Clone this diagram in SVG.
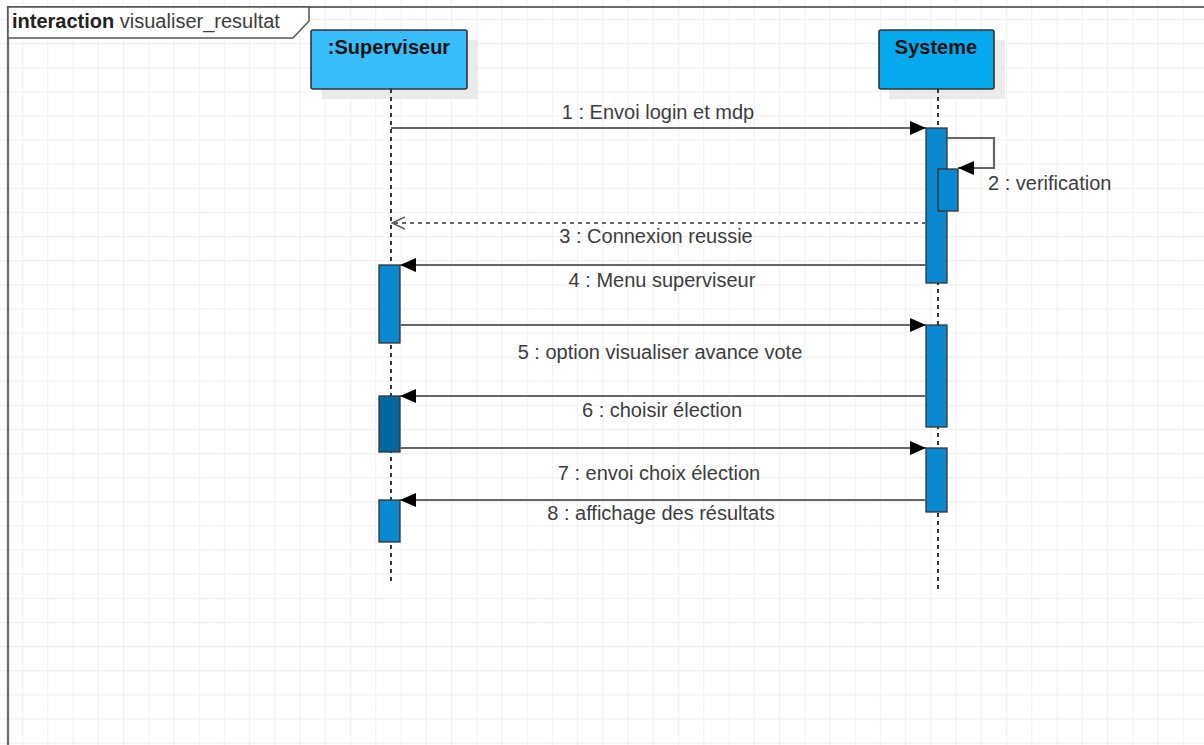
<svg xmlns="http://www.w3.org/2000/svg" width="1204" height="745" viewBox="0 0 1204 745">
  <defs>
    <pattern id="grid" patternUnits="userSpaceOnUse" x="22" y="43" width="25.23" height="24.12">
      <path d="M 0.5 0 V 24.12 M 0 0.5 H 25.23" fill="none" stroke="#f0f0f0" stroke-width="1.3"/>
    </pattern>
    <marker id="solid" viewBox="0 0 16 14" refX="16" refY="7" markerWidth="16" markerHeight="14" markerUnits="userSpaceOnUse" orient="auto">
      <path d="M 0 0 L 16 7 L 0 14 Z" fill="#000"/>
    </marker>
    <marker id="open" viewBox="0 0 14 14" refX="13" refY="7" markerWidth="14" markerHeight="14" markerUnits="userSpaceOnUse" orient="auto">
      <path d="M 0 1 L 13 7 L 0 13" fill="none" stroke="#555" stroke-width="1.5"/>
    </marker>
  </defs>
  <style>
    .lbl { font-family: "Liberation Sans", Arial, sans-serif; font-size: 20px; fill: #3c3c3c; }
    .head { font-family: "Liberation Sans", Arial, sans-serif; font-size: 20px; font-weight: bold; fill: #111; text-anchor: middle; }
    .msg { fill: none; stroke: #666666; stroke-width: 2.2; }
    .ret { fill: none; stroke: #666666; stroke-width: 1.8; stroke-dasharray: 4 4; }
    .life { stroke: #222; stroke-width: 1.8; stroke-dasharray: 4 4; }
    .act { fill: #0a88d0; stroke: #333; stroke-width: 1.3; }
    .act-dark { fill: #05679f; stroke: #333; stroke-width: 1.3; }
    .shadow { fill: #e6e6e6; opacity: 0.8; }
    .box { stroke: #333; stroke-width: 1.6; }
  </style>

  <!-- background grid -->
  <rect width="1204" height="745" fill="#ffffff"/>
  <rect width="1204" height="745" fill="url(#grid)"/>

  <!-- interaction frame -->
  <g id="frame">
    <path d="M 8 745 V 7 H 1204" fill="none" stroke="#6a6a6a" stroke-width="2.2"/>
    <path d="M 8 7 H 309 V 21 L 293 38 H 8 Z" fill="#ffffff" stroke="#555" stroke-width="1.5"/>
    <text x="12" y="28" class="lbl"><tspan font-weight="bold" fill="#222">interaction</tspan> visualiser_resultat</text>
  </g>

  <!-- lifeline: Superviseur -->
  <g id="superviseur">
    <rect class="shadow" x="322" y="40" width="156" height="59"/>
    <rect class="box" x="311" y="30" width="156" height="59" rx="2" fill="#38bdfd"/>
    <text class="head" x="389" y="54">:Superviseur</text>
    <line class="life" x1="391" y1="89" x2="391" y2="584"/>
  </g>

  <!-- lifeline: Systeme -->
  <g id="systeme">
    <rect class="shadow" x="889" y="40" width="116" height="59"/>
    <rect class="box" x="879" y="30" width="115" height="59" rx="2" fill="#04a9ee"/>
    <text class="head" x="936" y="54">Systeme</text>
    <line class="life" x1="938" y1="89" x2="938" y2="593"/>
  </g>

  <!-- activation bars -->
  <g id="activations">
    <rect id="act-sys-1" class="act" x="926" y="128" width="21" height="155"/>
    <rect id="act-sys-verif" class="act" x="938" y="169" width="20" height="42"/>
    <rect id="act-sys-2" class="act" x="926" y="325" width="21" height="102"/>
    <rect id="act-sys-3" class="act" x="926" y="448" width="21" height="64"/>
    <rect id="act-sup-1" class="act" x="379" y="265" width="21" height="78"/>
    <rect id="act-sup-2" class="act-dark" x="379" y="396" width="21" height="56"/>
    <rect id="act-sup-3" class="act" x="379" y="500" width="21" height="42"/>
  </g>

  <!-- messages -->
  <g id="connectors">
    <line class="msg" x1="391" y1="128" x2="926" y2="128" marker-end="url(#solid)"/>
    <path class="msg" d="M 947 138 H 994 V 168 H 958" marker-end="url(#solid)"/>
    <line class="ret" x1="926" y1="223" x2="392" y2="223" marker-end="url(#open)"/>
    <line class="msg" x1="926" y1="265" x2="400" y2="265" marker-end="url(#solid)"/>
    <line class="msg" x1="400" y1="325" x2="926" y2="325" marker-end="url(#solid)"/>
    <line class="msg" x1="926" y1="396" x2="400" y2="396" marker-end="url(#solid)"/>
    <line class="msg" x1="400" y1="448" x2="926" y2="448" marker-end="url(#solid)"/>
    <line class="msg" x1="926" y1="500" x2="400" y2="500" marker-end="url(#solid)"/>
  </g>

  <!-- message labels -->
  <g id="labels" text-anchor="middle">
    <text class="lbl" x="658" y="119">1 : Envoi login et mdp</text>
    <text class="lbl" x="988" y="190" text-anchor="start">2 : verification</text>
    <text class="lbl" x="656" y="243">3 : Connexion reussie</text>
    <text class="lbl" x="662" y="287">4 : Menu superviseur</text>
    <text class="lbl" x="660" y="359">5 : option visualiser avance vote</text>
    <text class="lbl" x="662" y="417">6 : choisir élection</text>
    <text class="lbl" x="659" y="480">7 : envoi choix élection</text>
    <text class="lbl" x="661" y="520">8 : affichage des résultats</text>
  </g>
</svg>
